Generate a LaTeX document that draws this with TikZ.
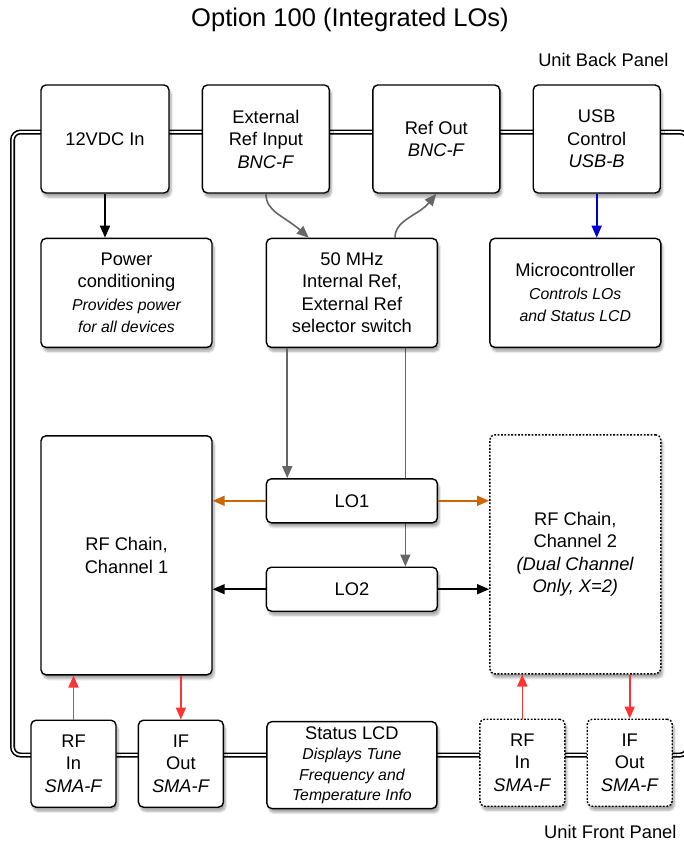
\documentclass[tikz,border=0pt]{standalone}
\usepackage{fontspec}
\setmainfont{Liberation Sans}
\usetikzlibrary{arrows.meta,positioning,calc,backgrounds,shadows.blur}
\definecolor{loorange}{RGB}{204,102,0}
\definecolor{refgray}{RGB}{102,102,102}
\definecolor{ctlblue}{RGB}{0,0,204}
\definecolor{sigred}{RGB}{255,51,51}
\newcommand{\smallnote}[1]{{\fontsize{15.8}{19}\selectfont\itshape #1}}

\begin{document}
\begin{tikzpicture}[
  x=1pt,y=-1pt,
  font=\fontsize{18.3}{22.5}\selectfont,
  box/.style={draw,line width=1.4pt,rounded corners=5pt,align=center,inner sep=2pt,
    fill=white,minimum width=127pt,minimum height=108pt,
    blur shadow={shadow xshift=2pt,shadow yshift=-4pt,shadow blur steps=8,shadow opacity=35}},
  block/.style={box,minimum width=171pt,minimum height=109pt},
  chain/.style={box,minimum width=171pt,minimum height=239pt},
  lobox/.style={box,minimum width=171pt,minimum height=44pt},
  port/.style={box,minimum width=85pt,minimum height=87pt},
  option/.style={dash pattern=on 1.8pt off 1.6pt},
  panel/.style={draw=black,line width=1.6pt,double=white,double distance=1.8pt,rounded corners=8pt},
  flow/.style={-{Triangle[length=12pt,width=10pt]},line width=1.6pt},
  ref/.style={flow,draw=refgray},
  ctl/.style={flow,draw=ctlblue},
  lo/.style={flow,draw=loorange},
  sig/.style={flow,draw=sigred}
]
\useasboundingbox (0,0) rectangle (683,841);
\node[font=\fontsize{25.5}{30}\selectfont] (title) at (350,20) {Option 100 (Integrated LOs)};
\node[anchor=east] (back) at (672,60) {Unit Back Panel};
\node[anchor=east] (front) at (680,832) {Unit Front Panel};

% back panel
\node[box,minimum width=128pt] (dc) at (105,139) {12VDC In};
\node[box,right=32pt of dc] (extref) {External\\Ref Input\\\textit{BNC-F}};
\node[box,right=42pt of extref] (refout) {Ref Out\\\textit{BNC-F}};
\node[box,right=32pt of refout] (usb) {USB\\Control\\\textit{USB-B}};

% inside the unit
\node[block,below right=44pt and 0pt of dc.south west] (power)
  {Power\\conditioning\\\smallnote{Provides power}\\\smallnote{for all devices}};
\node[block,right=53pt of power] (refsel)
  {50 MHz\\Internal Ref,\\External Ref\\selector switch};
\node[block,right=51pt of refsel] (micro)
  {Microcontroller\\\smallnote{Controls LOs}\\\smallnote{and Status LCD}};
\node[chain,below=87pt of power] (ch1) {RF Chain,\\Channel 1};
\node[chain,option,below=86pt of micro] (ch2)
  {RF Chain,\\Channel 2\\\textit{(Dual Channel}\\\textit{Only, X=2)}};
\node[lobox,below=130pt of refsel] (lo1) {LO1};
\node[lobox,below=43pt of lo1] (lo2) {LO2};

% front panel
\node[port,below right=44pt and -10pt of ch1.south west] (rfin1) {RF\\In\\\textit{SMA-F}};
\node[port,right=21pt of rfin1] (ifout1) {IF\\Out\\\textit{SMA-F}};
\node[box,minimum width=170pt,minimum height=87pt,below=109pt of lo2] (lcd)
  {Status LCD\\[-2pt]\smallnote{Displays Tune}\\[-2pt]\smallnote{Frequency and}\\[-2pt]\smallnote{Temperature Info}};
\node[port,option,below right=44pt and -10pt of ch2.south west] (rfin2) {RF\\In\\\textit{SMA-F}};
\node[port,option,right=21pt of rfin2] (ifout2) {IF\\Out\\\textit{SMA-F}};

\begin{scope}[on background layer]
\coordinate (panel nw) at (12.5,132);
\coordinate (panel se) at (688,755);
\draw[panel] (panel nw) rectangle (panel se);
\coordinate (tap2) at ($(refsel.south west)!.81!(refsel.south east)$);
\draw[ref] (tap2) -- (tap2 |- lo2.north);
\end{scope}

\draw[flow] (dc) -- (dc |- power.north);
\draw[ctl] (usb) -- (usb |- micro.north);
\draw[ref] (extref.south) .. controls +(0,18) and +(-25,-22)
  .. ($(refsel.north west)!.25!(refsel.north east)$);
\draw[ref] ($(refsel.north west)!.75!(refsel.north east)$) .. controls +(0,-18) and +(-18,22)
  .. (refout.south);
\coordinate (tap1) at ($(refsel.south west)!.125!(refsel.south east)$);
\draw[ref] (tap1) -- (tap1 |- lo1.north);

\draw[lo] (lo1) -- (lo1 -| ch1.east);
\draw[lo] (lo1) -- (lo1 -| ch2.west);
\draw[flow] (lo2) -- (lo2 -| ch1.east);
\draw[flow] (lo2) -- (lo2 -| ch2.west);

\draw[sig] (rfin1) -- (rfin1 |- ch1.south);
\draw[sig] (ifout1 |- ch1.south) -- (ifout1);
\draw[sig] (rfin2) -- (rfin2 |- ch2.south);
\draw[sig] (ifout2 |- ch2.south) -- (ifout2);
\end{tikzpicture}
\end{document}
